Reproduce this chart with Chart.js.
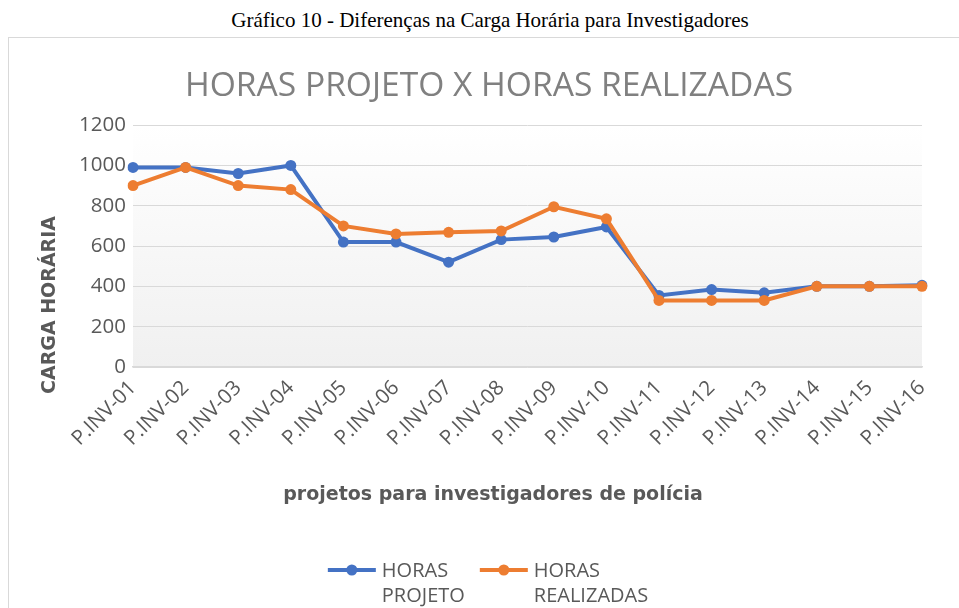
<!DOCTYPE html>
<html>
<head>
<meta charset="utf-8">
<script src="https://cdn.jsdelivr.net/npm/chart.js@4.4.1/dist/chart.umd.min.js"></script>
<style>
html,body{margin:0;padding:0;width:959px;height:608px;overflow:hidden;background:#fff;}
#cap{position:absolute;left:0;top:7px;width:980px;text-align:center;font-family:"Liberation Serif",serif;font-size:21px;color:#000;line-height:26px;}
#box{position:absolute;left:8px;top:37px;width:962px;height:600px;border:1px solid #d9d9d9;box-sizing:border-box;}
#c{position:absolute;left:0;top:0;}
</style>
</head>
<body>
<div id="cap">Gráfico 10 - Diferenças na Carga Horária para Investigadores</div>
<div id="box"></div>
<canvas id="c" width="978" height="608"></canvas>
<script>
const categories = ["P.INV-01","P.INV-02","P.INV-03","P.INV-04","P.INV-05","P.INV-06","P.INV-07","P.INV-08",
                    "P.INV-09","P.INV-10","P.INV-11","P.INV-12","P.INV-13","P.INV-14","P.INV-15","P.INV-16"];
const horasProjeto = [990, 990, 960, 1000, 620, 620, 520, 632, 645, 695, 355, 384, 368, 400, 400, 405];
const horasRealizadas = [900, 990, 900, 880, 700, 660, 668, 675, 795, 735, 330, 330, 330, 400, 400, 400];
const yTickValues = [0, 200, 400, 600, 800, 1000, 1200];
const seriesNames = ["HORAS PROJETO", "HORAS REALIZADAS"];
const chartTitle = "HORAS PROJETO X HORAS REALIZADAS";
const xAxisTitle = "projetos para investigadores de polícia";
const yAxisTitle = "CARGA HORÁRIA";

const BLUE = "#4472c4", ORANGE = "#ed7d31", TXT = "#595959";

const bgPlugin = {
  id: "plotBg",
  beforeDraw(chart) {
    const {ctx, chartArea: a} = chart;
    const g = ctx.createLinearGradient(0, a.top, 0, a.bottom);
    g.addColorStop(0, "#ffffff");
    g.addColorStop(1, "#f0f0f0");
    ctx.save();
    ctx.fillStyle = g;
    ctx.fillRect(a.left, a.top, a.right - a.left, a.bottom - a.top);
    ctx.restore();
  }
};

function splitLabel(s) {
  const i = s.indexOf(" ");
  return i < 0 ? [s] : [s.slice(0, i), s.slice(i + 1)];
}

const axisTitlePlugin = {
  id: "axisTitles",
  afterDraw(chart) {
    const ctx = chart.ctx;
    ctx.save();
    ctx.font = 'bold 19px "DejaVu Sans"';
    ctx.fillStyle = TXT;
    ctx.textAlign = "center";
    ctx.textBaseline = "middle";
    ctx.fillText(xAxisTitle, chart.width / 2 + 4, chart.scales.x.bottom - 25);
    ctx.translate(chart.scales.y.left - 6, chart.chartArea.bottom - 62);
    ctx.rotate(-Math.PI / 2);
    ctx.fillText(yAxisTitle, 0, 0);
    ctx.restore();
  }
};

const legendPlugin = {
  id: "wrapLegend",
  afterDraw(chart) {
    const ctx = chart.ctx;
    ctx.save();
    ctx.font = '20px "Open Sans"';
    ctx.textBaseline = "middle";
    ctx.textAlign = "left";
    const items = chart.data.datasets.map(ds => ({color: ds.borderColor, lines: splitLabel(ds.label)}));
    const markerW = 48, gapText = 6, gapItem = 15, lineH = 25;
    const widths = items.map(it => markerW + gapText + Math.max(...it.lines.map(l => ctx.measureText(l).width)));
    const total = widths.reduce((a, b) => a + b, 0) + gapItem * (items.length - 1);
    let x = chart.width / 2 - total / 2 - 1;
    const y0 = chart.height - 38;
    items.forEach((it, i) => {
      ctx.strokeStyle = it.color;
      ctx.lineWidth = 4;
      ctx.beginPath();
      ctx.moveTo(x, y0);
      ctx.lineTo(x + markerW, y0);
      ctx.stroke();
      ctx.fillStyle = it.color;
      ctx.beginPath();
      ctx.arc(x + markerW / 2, y0, 5.5, 0, Math.PI * 2);
      ctx.fill();
      ctx.fillStyle = TXT;
      it.lines.forEach((l, k) => ctx.fillText(l, x + markerW + gapText, y0 + 1 + k * lineH));
      x += widths[i] + gapItem;
    });
    ctx.restore();
  }
};

new Chart(document.getElementById("c"), {
  type: "line",
  data: {
    labels: categories,
    datasets: [
      {label: seriesNames[0], data: horasProjeto, borderColor: BLUE, backgroundColor: BLUE,
       borderWidth: 4, pointRadius: 5.5, pointBorderWidth: 0, pointBackgroundColor: BLUE, tension: 0, order: 1},
      {label: seriesNames[1], data: horasRealizadas, borderColor: ORANGE, backgroundColor: ORANGE,
       borderWidth: 4, pointRadius: 5.5, pointBorderWidth: 0, pointBackgroundColor: ORANGE, tension: 0, order: 0}
    ]
  },
  options: {
    responsive: false,
    animation: false,
    devicePixelRatio: 1,
    layout: {padding: {top: 66, left: 56, right: 56, bottom: 88}},
    plugins: {
      legend: {display: false},
      tooltip: {enabled: false},
      title: {
        display: true, text: chartTitle, color: "#808080",
        font: {family: "Open Sans", size: 33.6, weight: "normal"},
        padding: {top: 0, bottom: 18.8}
      }
    },
    scales: {
      x: {
        type: "category",
        offset: false,
        grid: {display: false, drawTicks: false},
        border: {display: true, color: "#d9d9d9", width: 1.5},
        ticks: {autoSkip: false, minRotation: 45, maxRotation: 45, padding: 9, color: TXT,
                font: {family: "Open Sans", size: 20.5}},
        title: {display: false},
        afterFit(s) { s.height = 153; }
      },
      y: {
        min: 0, max: 1200,
        afterBuildTicks(s) { s.ticks = yTickValues.map(v => ({value: v})); },
        grid: {color: "#d9d9d9", lineWidth: 1, drawTicks: false},
        border: {display: false},
        ticks: {padding: 7, color: TXT, font: {family: "Open Sans", size: 20.5},
                callback: v => String(v)},
        title: {display: false},
        afterFit(s) { s.width = 77; }
      }
    }
  },
  plugins: [bgPlugin, axisTitlePlugin, legendPlugin]
});
</script>
</body>
</html>
